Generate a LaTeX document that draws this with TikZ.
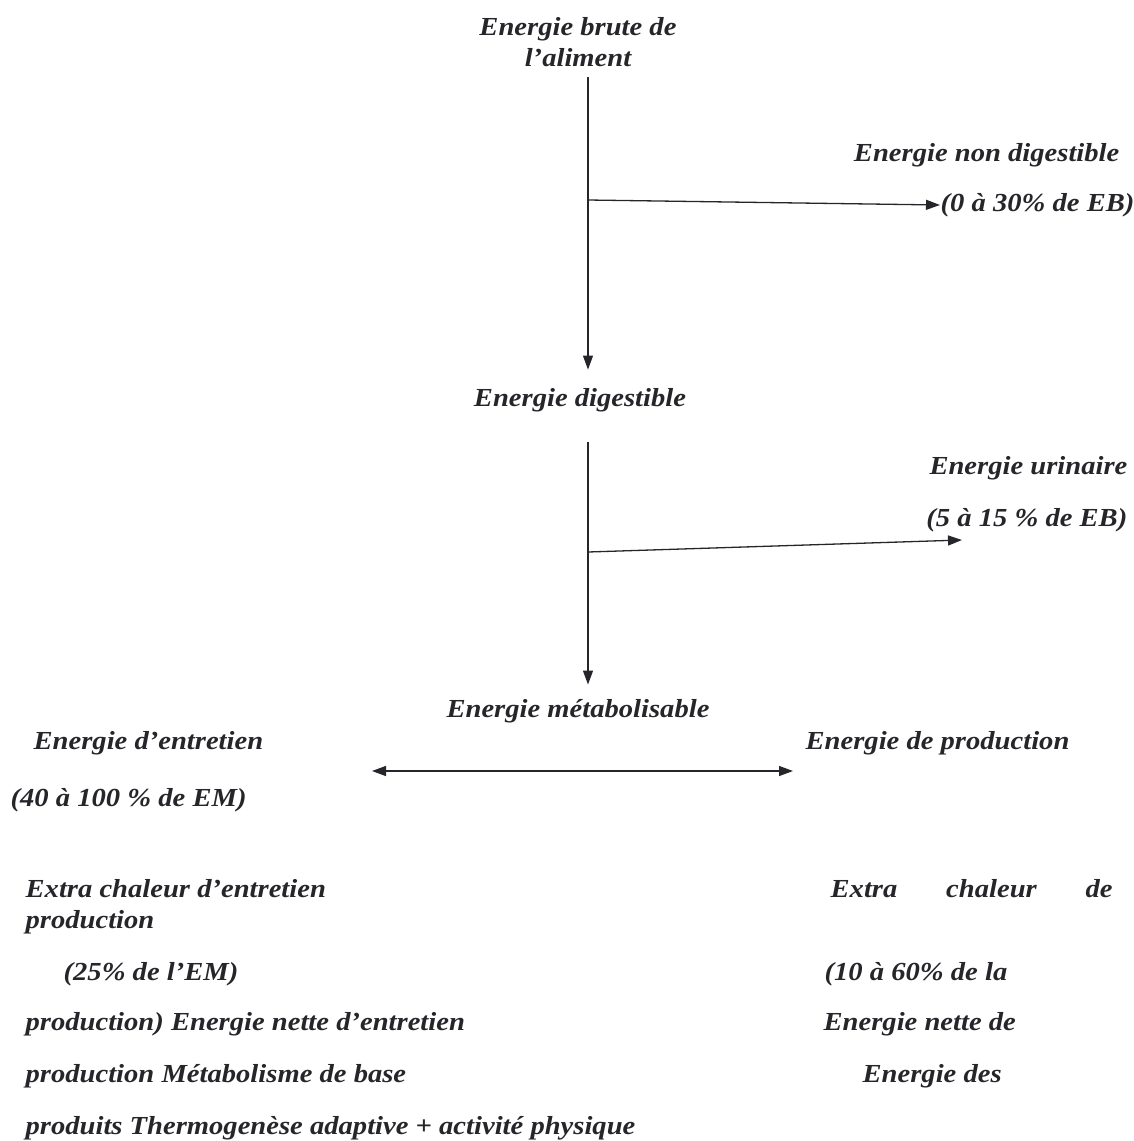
\documentclass[tikz,border=0pt]{standalone}
\usepackage{fontspec}
\setmainfont{Liberation Serif}[FakeStretch=1.1]
\usetikzlibrary{arrows.meta}
\definecolor{inkgray}{RGB}{38,38,42}

\begin{document}
\begin{tikzpicture}[x=1pt,y=-1pt,line width=1.3pt,draw=inkgray,>={Triangle[length=14pt,width=10pt]}]
            \tikzstyle{every node}=[font=\fontsize{26}{31}\selectfont\bfseries\itshape,text=inkgray,inner sep=0pt]
            \useasboundingbox (0,0) rectangle (1134,1141);
            % main column
            \node[align=center] (eb) at (578,42) {Energie brute de\\l’aliment};
            \node (ed) at (580,400) {Energie digestible};
            \node (em) at (578,711) {Energie métabolisable};
            % losses
            \node[anchor=east] (nd) at (1120,155) {Energie non digestible};
            \node[anchor=west] (ndp) at (940,205) {(0 à 30\% de EB)};
            \node[anchor=east] (ur) at (1128,468) {Energie urinaire};
            \node[anchor=east] (urp) at (1128,520) {(5 à 15 \% de EB)};
            % partition of EM
            \node[anchor=west] (ee) at (33,743) {Energie d’entretien};
            \node[anchor=west] (eep) at (10,800) {(40 à 100 \% de EM)};
            \node[anchor=west] (ep) at (805,743) {Energie de production};
            % lower block, left
            \node[anchor=west] (xl1) at (25,889) {Extra chaleur d’entretien};
            \node[anchor=west] (xl2) at (25,922) {production};
            \node[anchor=west] (xl3) at (63,974) {(25\% de l’EM)};
            \node[anchor=west] (xl4) at (25,1024) {production) Energie nette d’entretien};
            \node[anchor=west] (xl5) at (25,1076) {production Métabolisme de base};
            \node[anchor=west] (xl6) at (25,1128) {produits Thermogenèse adaptive + activité physique};
            % lower block, right
            \node[anchor=west,text width=282pt] (xr1) at (830,889) {Extra\hfill chaleur\hfill de};
            \node[anchor=west] (xr2) at (824,974) {(10 à 60\% de la};
            \node[anchor=west] (xr3) at (823,1024) {Energie nette de};
            \node[anchor=west] (xr4) at (862,1076) {Energie des};

            \coordinate (j1) at (588,200);
            \coordinate (j2) at (588,552);
            \coordinate (t2) at (962,540);
            \coordinate (la) at (372,771);
            \coordinate (ra) at (793,771);

            \draw[->] ([xshift=10pt,yshift=-10pt]eb.south) -- ([xshift=8pt,yshift=18pt]ed.north);
            \draw[->] ([xshift=8pt,yshift=-30pt]ed.south) -- ([xshift=10pt,yshift=14pt]em.north);
            \draw[->] (j1) -- (ndp.west);
            \draw[->] (j2) -- (t2);
            \draw[<->] (la) -- (ra);
          \end{tikzpicture}
\end{document}
